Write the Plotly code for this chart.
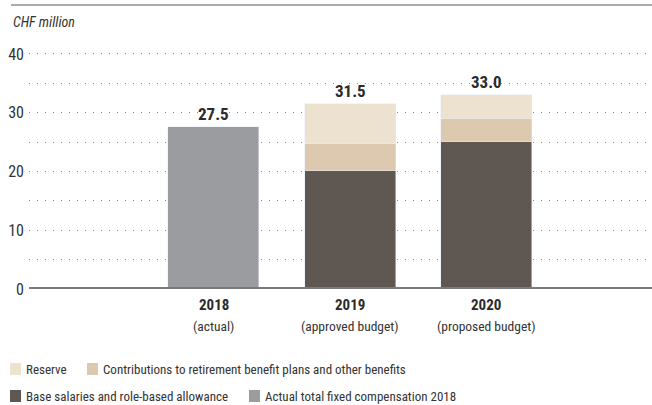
import plotly.graph_objects as go

categories = ["2018", "2019", "2020"]
subtitles = ["(actual)", "(approved budget)", "(proposed budget)"]
x_pos = [1, 2, 3]

actual_2018 = [27.5, None, None]
base_salaries = [None, 20.1, 25.1]
contributions = [None, 4.5, 3.8]
reserve = [None, 6.9, 4.1]
totals = [27.5, 31.5, 33.0]
total_labels = ["27.5", "31.5", "33.0"]

y_ticks = [0, 10, 20, 30, 40]

FONT = "Roboto Condensed, Roboto, Arial, sans-serif"
C_ACT = "#9b9c9f"
C_BASE = "#5f5752"
C_CONT = "#dcc9b0"
C_RES = "#ede2cf"
TXT = "#333333"

fig = go.Figure()
bw = 0.667
fig.add_trace(go.Bar(x=x_pos, y=actual_2018, marker_color=C_ACT, width=bw,
                     name="Actual total fixed compensation 2018", showlegend=False))
fig.add_trace(go.Bar(x=x_pos, y=base_salaries, marker_color=C_BASE, width=bw,
                     name="Base salaries and role-based allowance", showlegend=False))
fig.add_trace(go.Bar(x=x_pos, y=contributions, marker_color=C_CONT, width=bw,
                     name="Contributions to retirement benefit plans and other benefits", showlegend=False))
fig.add_trace(go.Bar(x=x_pos, y=reserve, marker_color=C_RES, width=bw,
                     name="Reserve", showlegend=False))

for x, t, lab in zip(x_pos, totals, total_labels):
    fig.add_annotation(x=x, y=t, text="<b>" + lab + "</b>", showarrow=False,
                       yanchor="bottom", yshift=1,
                       font=dict(family=FONT, size=17, color="#2b2b2b"))

for x, c, s in zip(x_pos, categories, subtitles):
    fig.add_annotation(x=x, y=0, yref="paper", text="<b>" + c + "</b>", showarrow=False,
                       yanchor="middle", yshift=-16,
                       font=dict(family=FONT, size=15, color="#2b2b2b"))
    fig.add_annotation(x=x, y=0, yref="paper", text=s, showarrow=False,
                       yanchor="middle", yshift=-37,
                       font=dict(family=FONT, size=13.5, color=TXT))

W, H = 652, 405
L, R, T, B = 29, 0, 51, 116
pw, ph = W - L - R, H - T - B
def px(xp):
    return (xp - L) / pw
def py(yp):
    return (H - B - yp) / ph

# baseline
fig.add_shape(type="line", xref="paper", yref="y", x0=0, x1=1, y0=0, y1=0,
              line=dict(color="#7b7b7b", width=4), layer="above")
# top rule
fig.add_shape(type="line", xref="paper", yref="paper", x0=px(11), x1=px(652), y0=py(5), y1=py(5),
              line=dict(color="#aaaaaa", width=2))

fig.add_annotation(text="<i>CHF million</i>", xref="paper", yref="paper", x=px(11), y=py(22),
                   xanchor="left", yanchor="middle", showarrow=False,
                   font=dict(family=FONT, size=14, color=TXT))

# legend (custom)
legend_items = [
    ("Reserve", C_RES, 10, 0),
    ("Contributions to retirement benefit plans and other benefits", C_CONT, 87, 0),
    ("Base salaries and role-based allowance", C_BASE, 10, 1),
    ("Actual total fixed compensation 2018", C_ACT, 249, 1),
]
row_y = [369, 396]
for name, col, xs, row in legend_items:
    yc = row_y[row]
    fig.add_shape(type="rect", xref="paper", yref="paper",
                  x0=px(xs), x1=px(xs + 11), y0=py(yc - 6), y1=py(yc + 6),
                  fillcolor=col, line=dict(width=0))
    fig.add_annotation(text=name, xref="paper", yref="paper", x=px(xs + 14), y=py(yc),
                       xanchor="left", yanchor="middle", showarrow=False,
                       font=dict(family=FONT, size=13, color=TXT))

fig.update_layout(
    width=W, height=H,
    margin=dict(l=L, r=R, t=T, b=B),
    paper_bgcolor="white", plot_bgcolor="white",
    barmode="stack", bargap=0,
    showlegend=False,
    font=dict(family=FONT, color=TXT),
    xaxis=dict(range=[-0.356, 4.215], showticklabels=False, showgrid=False,
               zeroline=False, showline=False, ticks=""),
    yaxis=dict(range=[0, 40.5], tickvals=y_ticks, ticks="", showline=False, zeroline=False,
               showgrid=True, gridcolor="#8a8a8a", gridwidth=1, griddash="1px,7px",
               tickfont=dict(family=FONT, size=16, color=TXT), ticklabelstandoff=4,
               minor=dict(dtick=5, showgrid=True, gridcolor="#8a8a8a", gridwidth=1,
                          griddash="1px,7px")),
)

fig.write_html("out.html")
